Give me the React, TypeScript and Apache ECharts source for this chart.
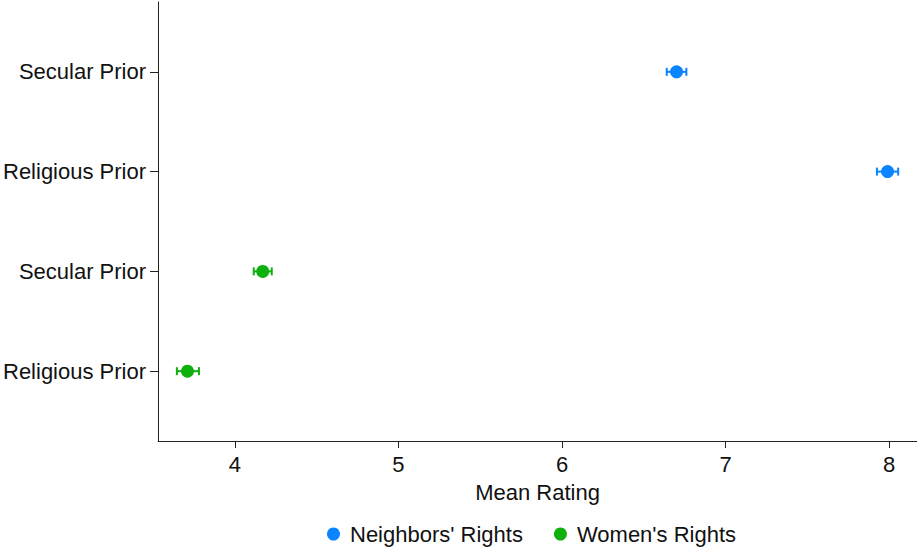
import React, { useEffect, useRef } from "react";
import * as echarts from "echarts";

const yLabels = ["Religious Prior", "Secular Prior", "Religious Prior", "Secular Prior"];
const yPositions = [1, 2, 3, 4];
const xTicks = [4, 5, 6, 7, 8];
const seriesNames = ["Neighbors' Rights", "Women's Rights"];
const seriesColors = ["#0B84FF", "#0DB00D"];

// Neighbors' Rights: positions 3 (Religious), 4 (Secular)
const neighborsPos = [3, 4];
const neighborsMean = [7.99, 6.70];
const neighborsLow = [7.925, 6.64];
const neighborsHigh = [8.055, 6.76];

// Women's Rights: positions 1 (Religious), 2 (Secular)
const womenPos = [1, 2];
const womenMean = [3.71, 4.17];
const womenLow = [3.645, 4.115];
const womenHigh = [3.78, 4.225];

const FONT = "'Liberation Sans', Arial, Helvetica, sans-serif";

function errorData(pos: number[], low: number[], high: number[]) {
  return pos.map((p, i) => [low[i], high[i], p]);
}

function makeErrorSeries(name: string, color: string, data: number[][]) {
  return {
    type: "custom",
    name,
    data,
    encode: { x: [0, 1], y: 2 },
    z: 2,
    silent: true,
    renderItem: (params: any, api: any) => {
      const lo = api.coord([api.value(0), api.value(2)]);
      const hi = api.coord([api.value(1), api.value(2)]);
      const h = 4;
      const style = { stroke: color, lineWidth: 2 };
      return {
        type: "group",
        children: [
          { type: "line", shape: { x1: lo[0], y1: lo[1], x2: hi[0], y2: hi[1] }, style },
          { type: "line", shape: { x1: lo[0], y1: lo[1] - h, x2: lo[0], y2: lo[1] + h }, style },
          { type: "line", shape: { x1: hi[0], y1: hi[1] - h, x2: hi[0], y2: hi[1] + h }, style },
        ],
      };
    },
  };
}

export default function App() {
  const ref = useRef<HTMLDivElement>(null);
  useEffect(() => {
    if (!ref.current) return;
    const chart = echarts.init(ref.current, undefined, { renderer: "svg" });
    const axisLineStyle = { color: "#222", width: 1 };
    chart.setOption({
      animation: false,
      backgroundColor: "#fff",
      textStyle: { fontFamily: FONT },
      grid: { left: 157, right: 0, top: 2, bottom: 107, containLabel: false },
      xAxis: {
        type: "value",
        min: 3.53,
        max: 8.17,
        name: "Mean Rating",
        nameLocation: "middle",
        nameGap: 40,
        nameTextStyle: { fontSize: 22, color: "#111", fontFamily: FONT },
        axisLine: { show: true, lineStyle: axisLineStyle },
        axisTick: { show: true, length: 7, lineStyle: axisLineStyle, customValues: xTicks },
        axisLabel: { fontSize: 22, color: "#111", margin: 12, fontFamily: FONT, customValues: xTicks },
        splitLine: { show: false },
      },
      yAxis: {
        type: "value",
        min: 0.3,
        max: 4.7,
        axisLine: { show: true, lineStyle: axisLineStyle },
        axisTick: { show: true, length: 8, lineStyle: axisLineStyle, customValues: yPositions },
        axisLabel: {
          fontSize: 22,
          color: "#111",
          margin: 12,
          fontFamily: FONT,
          customValues: yPositions,
          formatter: (v: number) => {
            const idx = yPositions.indexOf(Math.round(v));
            return idx >= 0 ? yLabels[idx] : "";
          },
        },
        splitLine: { show: false },
      },
      legend: {
        left: 322,
        top: 517,
        itemWidth: 13,
        itemHeight: 13,
        itemGap: 31,
        icon: "circle",
        textStyle: { fontSize: 22, lineHeight: 24, color: "#111", fontFamily: FONT, padding: [0, 0, 0, 5] },
        data: seriesNames.map((n, i) => ({ name: n, itemStyle: { color: seriesColors[i] } })),
      },
      series: [
        makeErrorSeries(seriesNames[0], seriesColors[0], errorData(neighborsPos, neighborsLow, neighborsHigh)),
        makeErrorSeries(seriesNames[1], seriesColors[1], errorData(womenPos, womenLow, womenHigh)),
        {
          type: "scatter",
          name: seriesNames[0],
          symbol: "circle",
          symbolSize: 13,
          z: 3,
          itemStyle: { color: seriesColors[0], opacity: 1 },
          data: neighborsPos.map((p, i) => [neighborsMean[i], p]),
        },
        {
          type: "scatter",
          name: seriesNames[1],
          symbol: "circle",
          symbolSize: 13,
          z: 3,
          itemStyle: { color: seriesColors[1], opacity: 1 },
          data: womenPos.map((p, i) => [womenMean[i], p]),
        },
      ],
    });
    return () => chart.dispose();
  }, []);
  return (
    <div
      ref={ref}
      style={{ position: "fixed", left: 0, top: 0, width: 917, height: 548, background: "#fff" }}
    />
  );
}
